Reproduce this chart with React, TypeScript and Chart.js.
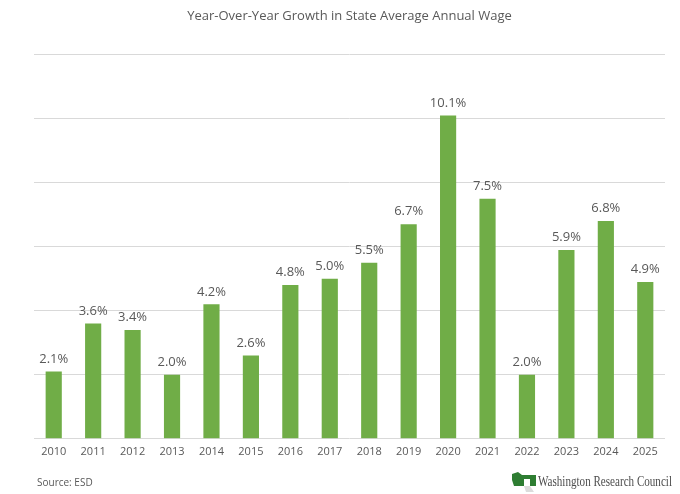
import { useEffect, useRef } from 'react';
import { Chart, registerables } from 'chart.js';

Chart.register(...registerables);

const years = ['2010', '2011', '2012', '2013', '2014', '2015', '2016', '2017', '2018', '2019', '2020', '2021', '2022', '2023', '2024', '2025'];
const wageGrowth = [2.1, 3.6, 3.4, 2.0, 4.2, 2.6, 4.8, 5.0, 5.5, 6.7, 10.1, 7.5, 2.0, 5.9, 6.8, 4.9];

const FONT = '"Open Sans", "Noto Sans", sans-serif';
const TEXT = '#595959';

// value labels above bars
const barLabels = {
  id: 'barLabels',
  afterDatasetsDraw(chart) {
    const ctx = chart.ctx;
    const meta = chart.getDatasetMeta(0);
    ctx.save();
    ctx.font = '13px ' + FONT;
    ctx.fillStyle = TEXT;
    ctx.textAlign = 'center';
    ctx.textBaseline = 'bottom';
    meta.data.forEach((bar, i) => {
      ctx.fillText(wageGrowth[i].toFixed(1) + '%', bar.x, bar.y - 6);
    });
    ctx.restore();
  },
};

// source note and logo in the footer
const footer = {
  id: 'footer',
  afterDraw(chart) {
    const ctx = chart.ctx;
    const h = chart.height;
    ctx.save();
    ctx.font = '10px ' + FONT;
    ctx.fillStyle = TEXT;
    ctx.textBaseline = 'middle';
    ctx.fillText('Source: ESD', 37, h - 11);

    // rough logo mark
    ctx.fillStyle = '#2e7d32';
    ctx.beginPath();
    ctx.moveTo(512, h - 20);
    ctx.lineTo(518, h - 22);
    ctx.lineTo(522, h - 19);
    ctx.lineTo(536, h - 19);
    ctx.lineTo(536, h - 8);
    ctx.lineTo(514, h - 8);
    ctx.lineTo(512, h - 14);
    ctx.closePath();
    ctx.fill();
    ctx.fillStyle = '#ffffff';
    ctx.fillRect(524, h - 15, 6, 7);
    ctx.fillStyle = '#dcdcdc';
    ctx.beginPath();
    ctx.moveTo(524, h - 8);
    ctx.lineTo(530, h - 8);
    ctx.lineTo(534, h - 2);
    ctx.lineTo(526, h - 2);
    ctx.closePath();
    ctx.fill();

    ctx.font = '14px "Liberation Serif", "DejaVu Serif", serif';
    ctx.fillStyle = '#4d4d4d';
    ctx.textBaseline = 'alphabetic';
    const label = 'Washington Research Council';
    const w = ctx.measureText(label).width;
    ctx.translate(538, h - 8);
    ctx.scale(134 / w, 1);
    ctx.fillText(label, 0, 0);
    ctx.restore();
  },
};

export default function App() {
  const chartRef = useRef(null);

  useEffect(() => {
    if (!chartRef.current) return;
    document.body.style.margin = '0';

    const ctx = chartRef.current.getContext('2d');
    const chartInstance = new Chart(ctx, {
      type: 'bar',
      data: {
        labels: years,
        datasets: [
          {
            data: wageGrowth,
            backgroundColor: '#70AD47',
            categoryPercentage: 1,
            barPercentage: 0.41,
          },
        ],
      },
      options: {
        animation: false,
        responsive: false,
        layout: { padding: { left: 34, right: 15, top: 2, bottom: 30 } },
        plugins: {
          legend: { display: false },
          tooltip: { enabled: false },
          title: {
            display: true,
            text: 'Year-Over-Year Growth in State Average Annual Wage',
            color: TEXT,
            font: { family: FONT, size: 13, weight: 'normal' },
            padding: { top: 6, bottom: 31 },
          },
        },
        scales: {
          x: {
            grid: { display: false, drawTicks: false },
            border: { display: false },
            ticks: { color: TEXT, font: { family: FONT, size: 11 }, padding: 6 },
          },
          y: {
            min: 0,
            max: 12,
            ticks: { display: false, stepSize: 2 },
            grid: { color: '#d9d9d9', drawTicks: false },
            border: { display: false },
          },
        },
      },
      plugins: [barLabels, footer],
    });

    return () => {
      chartInstance.destroy();
    };
  }, []);

  return <canvas ref={chartRef} width={680} height={494} style={{ display: 'block' }}></canvas>;
}
